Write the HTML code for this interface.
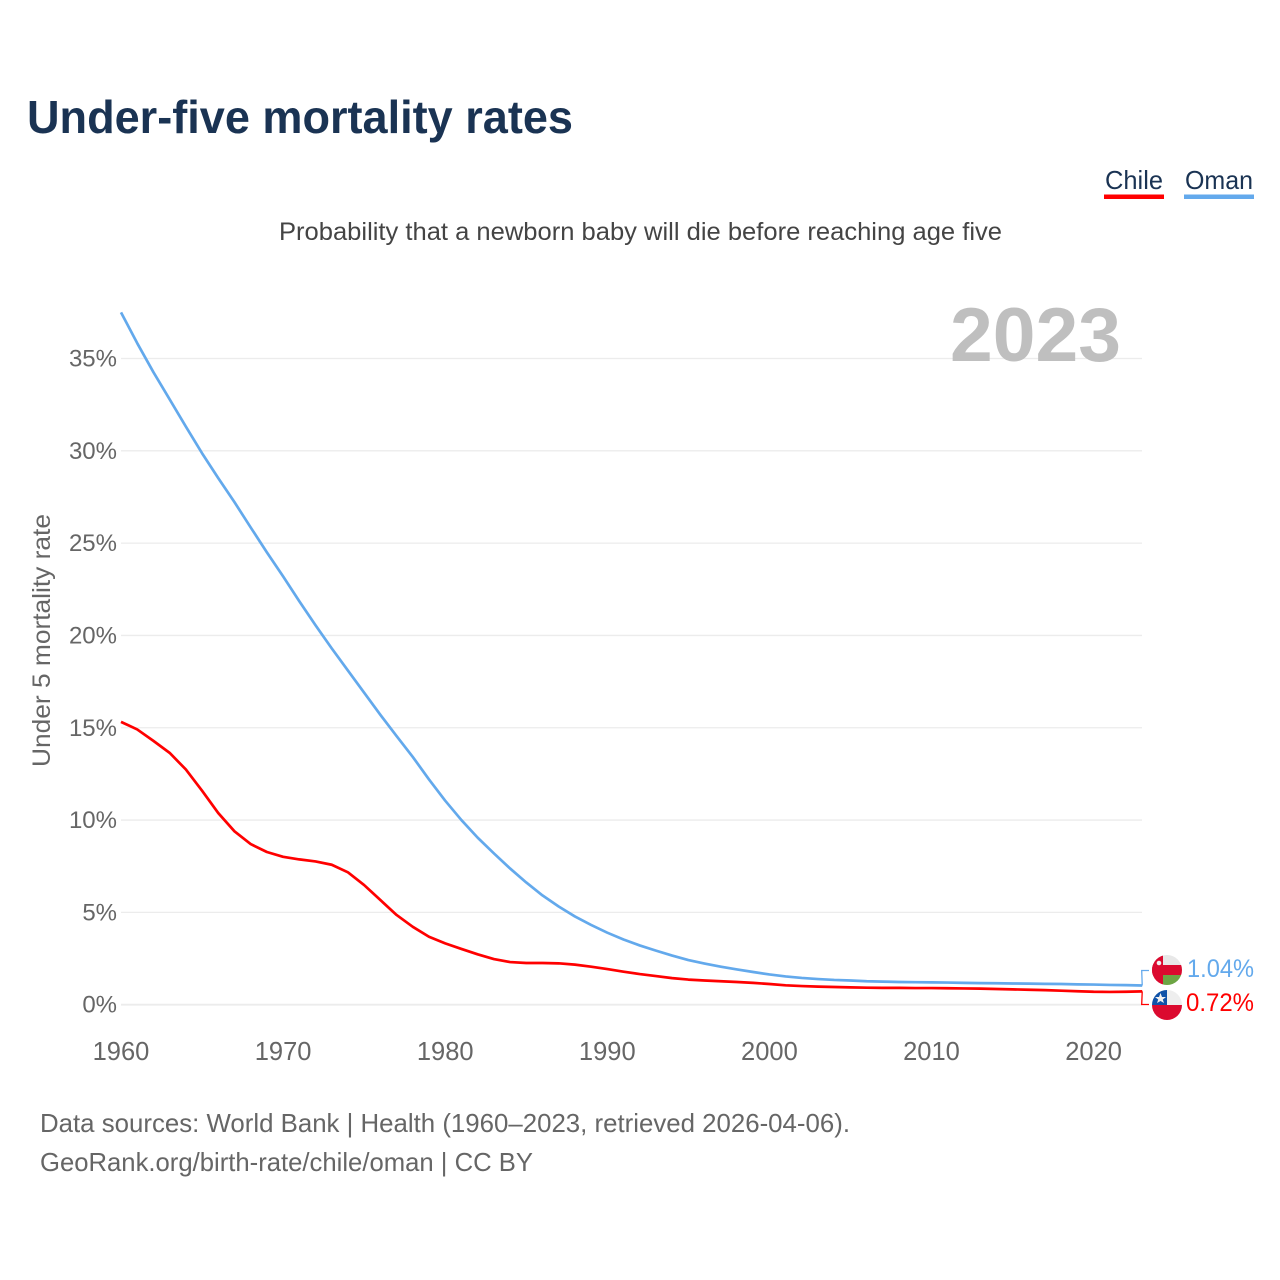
<!DOCTYPE html>
<html lang="en">
<head>
<meta charset="utf-8">
<title>Under-five mortality rates</title>
<style>
html,body{margin:0;padding:0;background:#fff;width:1280px;height:1280px;overflow:hidden}
svg{display:block;font-family:"Liberation Sans",sans-serif}
</style>
</head>
<body>
<svg id="chart" width="1280" height="1280" viewBox="0 0 1280 1280" xmlns="http://www.w3.org/2000/svg">
  <defs>
    <clipPath id="clip-oman"><circle cx="1167" cy="970" r="15"/></clipPath>
    <clipPath id="clip-chile"><circle cx="1167" cy="1005" r="15"/></clipPath>
  </defs>
  <rect width="1280" height="1280" fill="#fff"/>
  <text x="27" y="133" font-size="46" font-weight="700" fill="#1a3353" textLength="546" lengthAdjust="spacingAndGlyphs">Under-five mortality rates</text>
  <g>
    <text x="1105" y="189" font-size="26" fill="#1a3353" textLength="58" lengthAdjust="spacingAndGlyphs">Chile</text>
    <rect x="1104" y="194.5" width="60" height="4.5" fill="#ff0000"/>
  </g>
  <g>
    <text x="1185" y="189" font-size="26" fill="#1a3353" textLength="68" lengthAdjust="spacingAndGlyphs">Oman</text>
    <rect x="1184" y="194.5" width="70" height="4.5" fill="#63a9ec"/>
  </g>
  <text x="279" y="240" font-size="25" fill="#444" textLength="723" lengthAdjust="spacingAndGlyphs">Probability that a newborn baby will die before reaching age five</text>
  <g id="grid"></g>
  <g id="yticks"></g>
  <g id="xticks"></g>
  <text transform="translate(50,767) rotate(-90)" font-size="25" fill="#666" textLength="253" lengthAdjust="spacingAndGlyphs">Under 5 mortality rate</text>
  <text x="950" y="361" font-size="76" font-weight="700" fill="#bfbfbf" textLength="171" lengthAdjust="spacingAndGlyphs">2023</text>
  <g id="series"></g>
  <g clip-path="url(#clip-oman)">
    <rect x="1152" y="955" width="30" height="30" fill="#e8e8e8"/>
    <rect x="1152" y="965" width="30" height="10" fill="#db0a2f"/>
    <rect x="1152" y="955" width="11" height="30" fill="#db0a2f"/>
    <rect x="1163" y="975" width="19" height="10" fill="#6da544"/>
    <circle cx="1159" cy="963" r="2.3" fill="#f0f0f0"/>
  </g>
  <g clip-path="url(#clip-chile)">
    <rect x="1152" y="990" width="30" height="15" fill="#eeeeee"/>
    <rect x="1152" y="1005" width="30" height="15" fill="#db0a2f"/>
    <rect x="1152" y="990" width="15" height="15" fill="#0f52a8"/>
    <polygon points="1160.5,993 1162,997 1166,997 1162.8,999.5 1164,1003 1160.5,1001 1157,1003 1158.2,999.5 1155,997 1159,997" fill="#f0f0f0"/>
  </g>
  <text id="end-oman" x="1187" y="977" font-size="25" fill="#63a9ec" textLength="67" lengthAdjust="spacingAndGlyphs"></text>
  <text id="end-chile" x="1186" y="1011" font-size="25" fill="#ff0000" textLength="68" lengthAdjust="spacingAndGlyphs"></text>
  <text x="40" y="1132" font-size="26" fill="#666" textLength="810" lengthAdjust="spacingAndGlyphs">Data sources: World Bank | Health (1960–2023, retrieved 2026-04-06).</text>
  <text x="40" y="1171" font-size="26" fill="#666" textLength="493" lengthAdjust="spacingAndGlyphs">GeoRank.org/birth-rate/chile/oman | CC BY</text>
</svg>
<script>
var startYear = 1960;
var chile = [15.32,14.91,14.29,13.64,12.74,11.59,10.38,9.39,8.70,8.27,
  8.01,7.87,7.76,7.58,7.17,6.48,5.67,4.86,4.22,3.68,
  3.32,3.02,2.73,2.47,2.31,2.26,2.26,2.24,2.17,2.06,
  1.93,1.79,1.66,1.55,1.44,1.36,1.31,1.27,1.23,1.18,
  1.12,1.05,1.01,0.98,0.96,0.94,0.92,0.91,0.91,0.90,
  0.90,0.89,0.88,0.87,0.85,0.83,0.81,0.79,0.76,0.73,
  0.70,0.69,0.70,0.72];
var oman = [37.50,35.83,34.26,32.79,31.31,29.87,28.52,27.22,25.85,24.50,
  23.20,21.85,20.55,19.30,18.10,16.90,15.70,14.55,13.42,12.20,
  11.05,10.00,9.05,8.20,7.38,6.62,5.92,5.32,4.78,4.32,
  3.90,3.53,3.21,2.93,2.66,2.42,2.23,2.06,1.91,1.77,
  1.64,1.53,1.45,1.39,1.34,1.31,1.27,1.25,1.23,1.22,
  1.21,1.20,1.18,1.17,1.16,1.15,1.14,1.13,1.12,1.10,
  1.09,1.07,1.06,1.04];
var yTicks = [0,5,10,15,20,25,30,35];
var xTicks = [1960,1970,1980,1990,2000,2010,2020];

var NS = 'http://www.w3.org/2000/svg';
function xScale(year){ return 121 + (year - 1960) * 16.21; }
function yScale(v){ return 1004.7 - v * 18.463; }
function make(tag, parent, attrs){
  var el = document.createElementNS(NS, tag);
  for (var k in attrs) el.setAttribute(k, attrs[k]);
  parent.appendChild(el);
  return el;
}
var grid = document.getElementById('grid');
var yG = document.getElementById('yticks');
var xG = document.getElementById('xticks');
var seriesG = document.getElementById('series');

yTicks.forEach(function(t){
  var line = make('line', grid, {x1:121, x2:1142, y1:yScale(t), y2:yScale(t), stroke:'#ececec', 'stroke-width': t === 0 ? 1.8 : 1.3});
  
  
  var label = make('text', yG, {x:117, y:yScale(t) + 8, 'text-anchor':'end', 'font-size':24, fill:'#666'});
  
  
  label.textContent = t + '%';
});
xTicks.forEach(function(t){
  var label = make('text', xG, {x:xScale(t), y:1060, 'text-anchor':'middle', 'font-size':25.5, fill:'#666'});
  
  
  label.textContent = t;
});
function points(values){
  return values.map(function(v, i){
    return xScale(startYear + i).toFixed(2) + ',' + yScale(v).toFixed(2);
  }).join(' ');
}
var lineChile = make('polyline', seriesG, {points:points(chile), fill:'none', stroke:'#ff0000', 'stroke-width':2.7, 'stroke-linejoin':'round'});


var lineOman = make('polyline', seriesG, {points:points(oman), fill:'none', stroke:'#63a9ec', 'stroke-width':2.7, 'stroke-linejoin':'round'});



var lastX = xScale(startYear + chile.length - 1);
var connOman = make('polyline', seriesG, {points:lastX + ',' + yScale(oman[oman.length-1]) + ' 1141.7,970.5 1149,970.5', fill:'none', stroke:'#63a9ec', 'stroke-width':1.3});


var connChile = make('polyline', seriesG, {points:lastX + ',' + yScale(chile[chile.length-1]) + ' 1141.7,1004.5 1149,1004.5', fill:'none', stroke:'#ff0000', 'stroke-width':1.3});



document.getElementById('end-oman').textContent = oman[oman.length-1].toFixed(2) + '%';
document.getElementById('end-chile').textContent = chile[chile.length-1].toFixed(2) + '%';
</script>
</body>
</html>
